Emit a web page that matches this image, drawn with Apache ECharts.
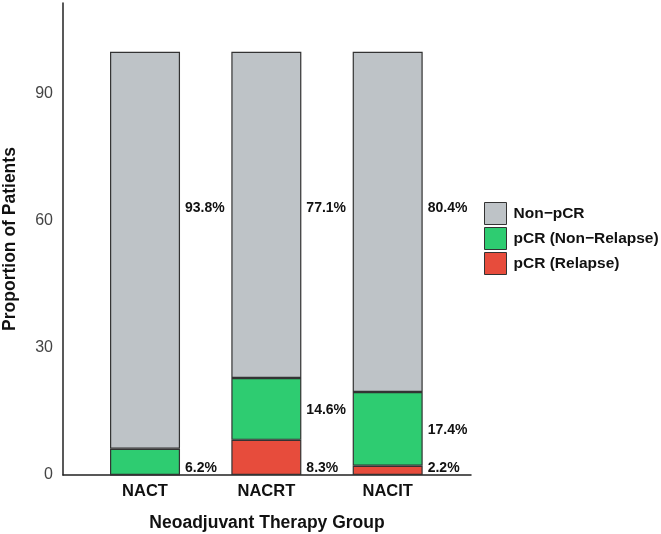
<!DOCTYPE html>
<html>
<head>
<meta charset="utf-8">
<script src="https://cdn.jsdelivr.net/npm/echarts@6/dist/echarts.min.js"></script>
<style>html,body{margin:0;padding:0;background:#fff}#c{width:661px;height:534px}</style>
</head>
<body>
<div id="c"></div>
<script>
var categories = ['NACT', 'NACRT', 'NACIT'];
var seriesNames = ['Non\u2212pCR', 'pCR (Non\u2212Relapse)', 'pCR (Relapse)'];
var nonPCR = [93.8, 77.1, 80.4];
var pcrNonRelapse = [6.2, 14.6, 17.4];
var pcrRelapse = [0, 8.3, 2.2];
var yTicks = [0, 30, 60, 90];

var FONT = '"Liberation Sans", Arial, Helvetica, sans-serif';
var colors = { grey: '#BEC3C7', green: '#2ECC71', red: '#E74C3C' };

var labelBase = { show: true, color: '#111', fontWeight: 'bold', fontSize: 14, fontFamily: FONT,
  align: 'left', verticalAlign: 'middle',
  formatter: function (p) { return p.value > 0 ? p.value.toFixed(1) + '%' : ''; } };

var bottomLabel = Object.assign({}, labelBase, { position: ['100%', '100%'], offset: [5, -7] });
var midLabel = Object.assign({}, labelBase, { position: ['100%', '50%'], offset: [5, 1] });
var greyLabel = Object.assign({}, labelBase, { position: ['100%', 0], offset: [5, 156] });

var greenData = pcrNonRelapse.map(function (v, i) {
  return { value: v, label: pcrRelapse[i] > 0 ? midLabel : bottomLabel };
});

var itemBorder = { borderColor: '#333', borderWidth: 1.2 };
var chart = echarts.init(document.getElementById('c'));
chart.setOption({
  animation: false,
  grid: [
    { left: 84.35, right: 212.65, top: 3, bottom: 59, containLabel: false, outerBoundsMode: 'none' },
    { left: 63, right: 190, top: 3, bottom: 59, containLabel: false, outerBoundsMode: 'none' }
  ],
  legend: {
    orient: 'vertical', left: 479, top: 197, itemWidth: 22, itemHeight: 22, itemGap: 2,
    icon: 'rect', data: seriesNames,
    itemStyle: { borderColor: '#333', borderWidth: 1 },
    textStyle: { fontFamily: FONT, fontWeight: 'bold', fontSize: 15.5, color: '#111', padding: [0, 0, 0, 2] }
  },
  xAxis: [
    {
      type: 'category', gridIndex: 0, data: categories,
      axisLine: { show: false }, axisTick: { show: false }, splitLine: { show: false },
      axisLabel: { margin: 8, fontFamily: FONT, fontWeight: 'bold', fontSize: 16.5, color: '#111' }
    },
    {
      type: 'value', gridIndex: 1, min: 0, max: 1,
      name: 'Neoadjuvant Therapy Group', nameLocation: 'middle', nameGap: 39,
      nameTextStyle: { fontFamily: FONT, fontWeight: 'bold', fontSize: 17.5, color: '#111' },
      axisLine: { show: true, lineStyle: { color: '#222', width: 1.5 } },
      axisTick: { show: false }, splitLine: { show: false }, axisLabel: { show: false }
    }
  ],
  yAxis: [
    {
      type: 'value', gridIndex: 0, min: 0, max: 111.5, offset: 21.35,
      name: 'Proportion of Patients', nameLocation: 'middle', nameGap: 44,
      nameTextStyle: { fontFamily: FONT, fontWeight: 'bold', fontSize: 17.5, color: '#111' },
      axisLine: { show: true, lineStyle: { color: '#222', width: 1.5 } },
      axisTick: { show: false }, splitLine: { show: false },
      axisLabel: { customValues: yTicks, margin: 10, fontFamily: FONT, fontSize: 16, color: '#444' }
    },
    {
      type: 'value', gridIndex: 1, min: 0, max: 1, show: false
    }
  ],
  series: [
    { name: seriesNames[2], type: 'bar', stack: 'a', barWidth: 70, data: pcrRelapse,
      itemStyle: Object.assign({ color: colors.red }, itemBorder), label: bottomLabel },
    { name: seriesNames[1], type: 'bar', stack: 'a', barWidth: 70, data: greenData,
      itemStyle: Object.assign({ color: colors.green }, itemBorder) },
    { name: seriesNames[0], type: 'bar', stack: 'a', barWidth: 70, data: nonPCR,
      itemStyle: Object.assign({ color: colors.grey }, itemBorder), label: greyLabel }
  ]
});
</script>
</body>
</html>
